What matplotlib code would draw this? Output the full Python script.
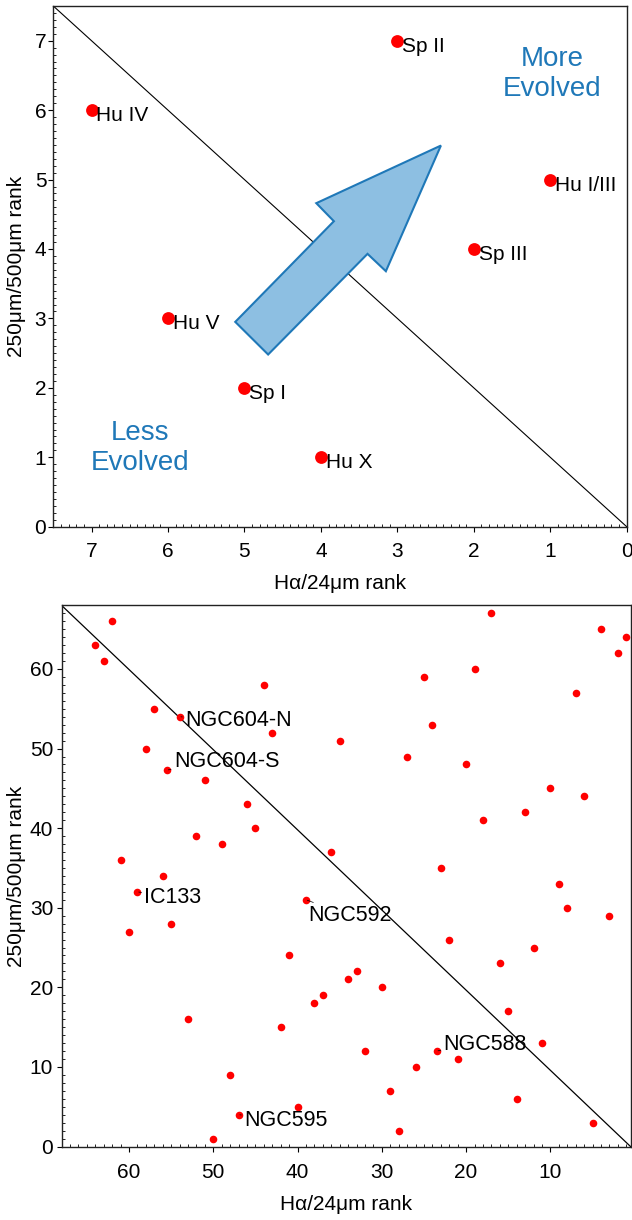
import matplotlib
matplotlib.use("Agg")
import matplotlib.pyplot as plt
from matplotlib.patches import Polygon
from matplotlib.ticker import MultipleLocator

plt.rcParams['font.family'] = ['Liberation Sans', 'DejaVu Sans']

# ---------------- data: top panel (regions) ----------------
region_names = ["Hu IV", "Sp II", "Hu I/III", "Sp III", "Hu V", "Sp I", "Hu X"]
region_ha24 = [7, 3, 1, 2, 6, 5, 4]
region_250_500 = [6, 7, 5, 4, 3, 2, 1]

# arrow outline (data coords)
arrow_x = [4.69, 5.12, 3.83, 4.06, 2.43, 3.15, 3.39]
arrow_y = [2.48, 2.95, 4.40, 4.66, 5.49, 3.68, 3.93]

# ---------------- data: bottom panel (pixels/galaxies) ----------------
pix_ha24 = [62, 64, 63, 44, 57, 54, 43, 35, 58, 55.5, 51, 46, 45, 52, 49, 36, 61, 56, 59, 39,
            17, 4, 1, 2, 19, 25, 7, 24, 27, 20, 10, 6, 13, 18, 23, 9, 8,
            60, 55, 41, 34, 37, 38, 53, 42, 48, 40, 47, 50,
            3, 22, 12, 16, 33, 30, 15, 32, 23.5, 11, 21, 26, 29, 14, 28, 5]
pix_250_500 = [66, 63, 61, 58, 55, 54, 52, 51, 50, 47.3, 46, 43, 40, 39, 38, 37, 36, 34, 32, 31,
               67, 65, 64, 62, 60, 59, 57, 53, 49, 48, 45, 44, 42, 41, 35, 33, 30,
               27, 28, 24, 21, 19, 18, 16, 15, 9, 5, 4, 1,
               29, 26, 25, 23, 22, 20, 17, 12, 12, 13, 11, 10, 7, 6, 2, 3]
lab_names = ["NGC604-N", "NGC604-S", "IC133", "NGC592", "NGC588", "NGC595"]
lab_ha24 = [54, 55.5, 59, 39, 23.5, 47]
lab_250_500 = [54, 47.3, 32, 31, 12, 4]
lab_offsets = [(4, -3), (5, 6), (5, -4), (1.5, -11.5), (5, 5), (4, -4)]

W, H = 632, 1220
fig = plt.figure(figsize=(W / 100, H / 100), dpi=100)

def px_axes(l, t, r, b):
    return fig.add_axes([l / W, 1 - b / H, (r - l) / W, (b - t) / H])

def style(ax, major, minor, xpad, ypad):
    ax.xaxis.set_major_locator(MultipleLocator(major))
    ax.yaxis.set_major_locator(MultipleLocator(major))
    ax.xaxis.set_minor_locator(MultipleLocator(minor))
    ax.yaxis.set_minor_locator(MultipleLocator(minor))
    ax.tick_params(which='major', direction='out', length=3.5, width=0.8, labelsize=15)
    ax.tick_params(which='minor', direction='in', length=2, width=0.6)
    ax.tick_params(axis='x', which='major', pad=xpad)
    ax.tick_params(axis='y', which='major', pad=ypad)
    for s in ax.spines.values():
        s.set_linewidth(1.0)
        s.set_color('#222222')

# ---------------- top panel ----------------
ax1 = px_axes(53.3, 6, 626.7, 526.7)
ax1.set_xlim(7.5, 0)
ax1.set_ylim(0, 7.5)
style(ax1, 1, 0.1, 7.5, 1.5)
ax1.plot([0, 1], [1, 0], transform=ax1.transAxes, color='black', lw=0.8, zorder=1)
ax1.add_patch(Polygon(list(zip(arrow_x, arrow_y)), closed=True, facecolor='#8dbfe2',
                      edgecolor='#1f78b8', lw=1.5, zorder=2))
ax1.scatter(region_ha24, region_250_500, s=85, color='#ff0000', zorder=3, linewidths=0)
for n, x, y in zip(region_names, region_ha24, region_250_500):
    ax1.annotate(n, (x, y), xytext=(3.5, -4), textcoords='offset points',
                 ha='left', va='center', fontsize=15, zorder=4)
ax1.text(0.97, 6.52, "More\nEvolved", color='#1f78b8', fontsize=20, ha='center',
         va='center', linespacing=1.2)
ax1.text(6.36, 1.13, "Less\nEvolved", color='#1f78b8', fontsize=20, ha='center',
         va='center', linespacing=1.2)
ax1.set_xlabel("Hα/24μm rank", fontsize=15)
ax1.set_ylabel("250μm/500μm rank", fontsize=15)
ax1.xaxis.set_label_coords(0.5, -0.091)
ax1.yaxis.set_label_coords(-0.048, 0.5)

# ---------------- bottom panel ----------------
ax2 = px_axes(61.5, 605.3, 630.5, 1146.5)
ax2.set_xlim(68, 0.5)
ax2.set_ylim(0, 68)
style(ax2, 10, 1, 8.5, 2.5)
ax2.plot([0, 1], [1, 0], transform=ax2.transAxes, color='black', lw=0.9, zorder=1)
ax2.scatter(pix_ha24, pix_250_500, s=30, color='#ff0000', zorder=3, linewidths=0)
for n, x, y, off in zip(lab_names, lab_ha24, lab_250_500, lab_offsets):
    ax2.annotate(n, (x, y), xytext=off, textcoords='offset points',
                 ha='left', va='center', fontsize=15.5, zorder=4,
                 arrowprops=dict(arrowstyle='-', lw=0.5, color='black',
                                 shrinkA=0, shrinkB=1))
ax2.set_xlabel("Hα/24μm rank", fontsize=15)
ax2.set_ylabel("250μm/500μm rank", fontsize=15)
ax2.xaxis.set_label_coords(0.5, -0.09)
ax2.yaxis.set_label_coords(-0.062, 0.5)

fig.savefig("out.png", dpi=100)
